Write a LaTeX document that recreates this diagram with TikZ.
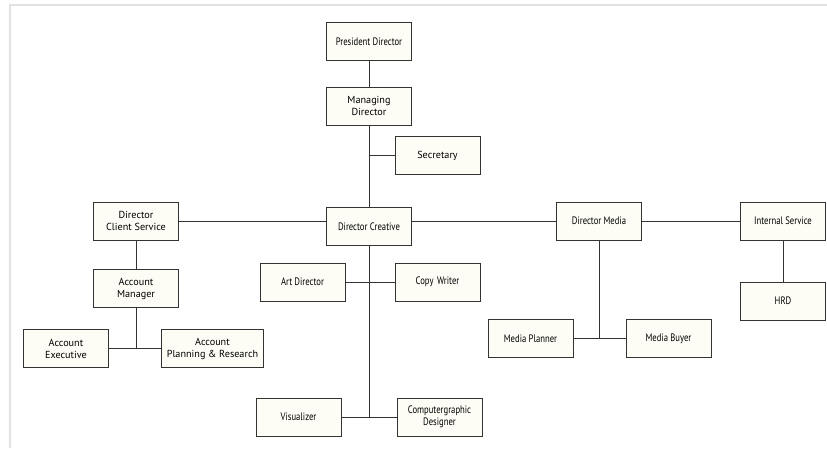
\documentclass[tikz,border=0pt]{standalone}
\usepackage{fontspec}
\setmainfont{PT Sans}
\newfontfamily\narrowfont{PT Sans}[FakeStretch=0.80]
\usepackage{tikz}
\usetikzlibrary{positioning}
\definecolor{boxfill}{HTML}{FDFDF5}
\definecolor{boxline}{HTML}{333333}
\definecolor{framegray}{HTML}{E2E2E2}

\begin{document}
\begin{tikzpicture}[x=1pt, y=-1pt,
    unit/.style={draw=boxline, line width=1pt, fill=boxfill, minimum width=85pt,
      minimum height=38pt, align=center, inner sep=2pt, font=\fontsize{10.2}{12}\selectfont},
    slim/.style={unit, font=\fontsize{10.8}{12.5}\selectfont\narrowfont},
    link/.style={draw=boxline, line width=0.9pt}]
  \useasboundingbox (0,0) rectangle (827,448);
  \fill[white] (0,0) rectangle (827,448);
  \draw[framegray, line width=2pt] (10,448) -- (10,5) -- (827,5);

  \node[slim] (pd) at (369,41.5) {President Director};
  \node[unit] (md) at (369,106) {Managing\\Director};
  \node[unit] (sec) at (437.5,155.5) {Secretary};
  \node[slim] (dc) at (369,226.5) {Director Creative};
  \node[unit] (dcs) at (136,221) {Director\\Client Service};
  \node[slim] (dm) at (599,221) {Director Media};
  \node[slim] (is) at (783,221) {Internal Service};
  \node[slim] (hrd) at (783,301) {HRD};

  \node[slim] (ad) at (302.5,282) {Art Director};
  \node[slim] (cw) at (437.5,282) {Copy\,\,Writer};
  \node[slim] (vis) at (298.5,417) {Visualizer};
  \node[slim] (cgd) at (439.5,417) {Computergraphic\\Designer};

  \node[slim] (mp) at (530.5,338.5) {Media Planner};
  \node[slim] (mb) at (668.5,338.5) {Media Buyer};

  \node[unit] (am) at (136,288.5) {Account\\Manager};
  \node[unit] (ae) at (66,348.5) {Account\\Executive};
  \node[unit, minimum width=102pt] (apr) at (212.5,348.5) {Account\\Planning \& Research};

  % top chain
  \draw[link] (pd) -- (md);
  \draw[link] (md) -- (dc);
  \draw[link] (sec.west) -- (sec.west -| md.south);

  % main row
  \draw[link] (dcs) -- (dc.west |- dcs);
  \draw[link] (dc.east |- dm) -- (dm);
  \draw[link] (dm) -- (is);
  \draw[link] (is) -- (hrd);

  % creative
  \draw[link] (dc) -- (dc |- vis);
  \draw[link] (ad) -- (cw);
  \draw[link] (vis) -- (cgd);

  % media
  \draw[link] (dm) -- (dm |- mp);
  \draw[link] (mp) -- (mb);

  % client service
  \draw[link] (dcs) -- (am);
  \draw[link] (am) -- (am |- ae);
  \draw[link] (ae) -- (apr);
\end{tikzpicture}
\end{document}
